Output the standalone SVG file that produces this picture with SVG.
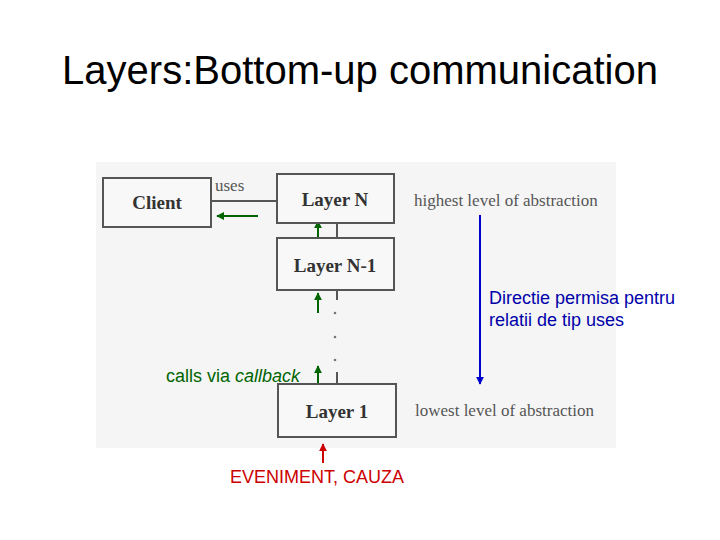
<svg xmlns="http://www.w3.org/2000/svg" width="720" height="540" viewBox="0 0 720 540">
<defs>
<style>
.box{fill:#f8f8f8;stroke:#555;stroke-width:2}
.lbl{font-family:"Liberation Serif",serif;font-weight:bold;font-size:19px;fill:#333;text-anchor:middle}
.note{font-family:"Liberation Serif",serif;font-size:17px;fill:#555}
.ln{stroke:#555;stroke-width:2;fill:none}
.g{stroke:#006400;stroke-width:2;fill:none}
.s{font-family:"Liberation Sans",Arial,sans-serif;font-size:18px}
</style>
<marker id="ag" viewBox="0 0 10 10" refX="9" refY="5" markerWidth="4" markerHeight="4" orient="auto"><path d="M0,0L10,5L0,10z" fill="#006400"/></marker>
<marker id="ab" viewBox="0 0 10 10" refX="9" refY="5" markerWidth="4" markerHeight="4" orient="auto"><path d="M0,0L10,5L0,10z" fill="#0000cc"/></marker>
<marker id="ar" viewBox="0 0 10 10" refX="9" refY="5" markerWidth="4" markerHeight="4" orient="auto"><path d="M0,0L10,5L0,10z" fill="#cc0000"/></marker>
</defs>
<rect width="720" height="540" fill="#fff"/>
<text x="360" y="84" font-family="Liberation Sans,Arial,sans-serif" font-size="40" text-anchor="middle" fill="#000">Layers:Bottom-up communication</text>
<rect x="96" y="162" width="520" height="286" fill="#f5f5f5"/>
<g id="connectors">
<line class="ln" x1="211" y1="201" x2="277" y2="201"/>
<line class="ln" x1="337" y1="223" x2="337" y2="238"/>
<line class="ln" x1="337" y1="290" x2="337" y2="300"/>
<line class="ln" x1="337" y1="372" x2="337" y2="384"/>
<circle cx="335" cy="313" r="1.3" fill="#777"/>
<circle cx="335" cy="337" r="1.3" fill="#777"/>
<circle cx="335" cy="360" r="1.3" fill="#777"/>
<line class="g" x1="258" y1="216" x2="217" y2="216" marker-end="url(#ag)"/>
<line class="g" x1="318" y1="239" x2="318" y2="221" marker-end="url(#ag)"/>
<line class="g" x1="318" y1="313" x2="318" y2="293" marker-end="url(#ag)"/>
<line class="g" x1="318" y1="384" x2="318" y2="366" marker-end="url(#ag)"/>
<line x1="323" y1="463" x2="323" y2="444" stroke="#cc0000" stroke-width="2" marker-end="url(#ar)"/>
<line x1="480" y1="215" x2="480" y2="384" stroke="#0000cc" stroke-width="2" marker-end="url(#ab)"/>
</g>
<g id="client"><rect class="box" x="103" y="178" width="108" height="49"/><text class="lbl" x="157" y="209">Client</text></g>
<g id="layerN"><rect class="box" x="277" y="174" width="117" height="49"/><text class="lbl" x="335" y="206">Layer N</text></g>
<g id="layerN1"><rect class="box" x="277" y="238" width="117" height="52"/><text class="lbl" x="335" y="272">Layer N-1</text></g>
<g id="layer1"><rect class="box" x="278" y="384" width="118" height="53"/><text class="lbl" x="337" y="418">Layer 1</text></g>
<text class="note" x="215" y="191" font-size="16">uses</text>
<text class="note" x="414" y="206">highest level of abstraction</text>
<text class="note" x="415" y="416">lowest level of abstraction</text>
<text class="s" x="489" y="304" fill="#0000aa">Directie permisa pentru</text>
<text class="s" x="489" y="326" fill="#0000aa">relatii de tip uses</text>
<text class="s" x="166" y="382" fill="#006400">calls via <tspan font-style="italic">callback</tspan></text>
<text class="s" x="317" y="483" fill="#cc0000" text-anchor="middle">EVENIMENT, CAUZA</text>
</svg>
